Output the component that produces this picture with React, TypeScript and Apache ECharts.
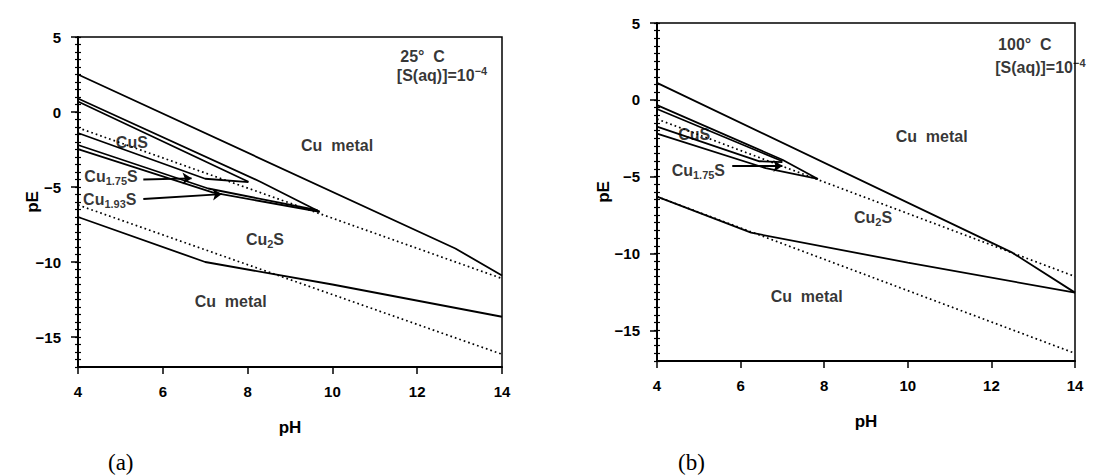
import React, { useEffect, useRef } from 'react';
import * as echarts from 'echarts';

// ---------- axis ticks ----------
const xTicks = [4, 6, 8, 10, 12, 14];
const yTicks = [5, 0, -5, -10, -15];

// ---------- panel (a) 25 °C : boundary lines [pH, pE] ----------
const aTop = [[4, 2.5], [12.9, -9.1], [14, -10.9]];
const aL1 = [[4, 0.9], [8.3, -4.65], [9.7, -6.65]];
const aL2 = [[4, 0.7], [8.02, -4.65]];
const aL3 = [[4, -1.4], [7.0, -4.45], [8.02, -4.68]];
const aL4 = [[4, -2.2], [7.07, -5.1], [9.65, -6.55]];
const aL5 = [[4, -2.47], [7.19, -5.38], [9.7, -6.65]];
const aBottom = [[4, -7], [7, -10], [10, -11.5], [14, -13.65]];
const aDot1 = [[4, -1.05], [14, -11.1]];
const aDot2 = [[4, -6.2], [14, -16.15]];
const aArrow1 = [[5.54, -4.5], [6.68, -4.42]];
const aArrow2 = [[5.54, -5.8], [7.39, -5.47]];

// ---------- panel (b) 100 °C ----------
const bTop = [[4, 1.1], [12.5, -9.95], [14, -12.55]];
const bL1 = [[4, -0.35], [7.0, -3.9], [7.85, -5.15]];
const bL2 = [[4, -0.6], [7.0, -4.0]];
const bL3 = [[4, -1.75], [6.45, -4.0], [7.0, -4.05]];
const bL4 = [[4, -2.2], [6.6, -4.45], [7.85, -5.15]];
const bBottom = [[4, -6.3], [6.25, -8.65], [10, -10.6], [14, -12.55]];
const bDot1 = [[4, -1.25], [14, -11.5]];
const bDot2 = [[4, -6.3], [14, -16.5]];
const bArrow1 = [[5.8, -4.3], [7.0, -4.3]];

// ---------- region labels ----------
const aLabels = [
  { x: 5.27, y: -2.03, t: '{m|CuS}', pos: 'inside' },
  { x: 10.11, y: -2.25, t: '{m|Cu  metal}', pos: 'inside' },
  { x: 8.41, y: -8.47, t: '{m|Cu}{s|2}{m|S}', pos: 'inside' },
  { x: 7.6, y: -12.63, t: '{m|Cu  metal}', pos: 'inside' },
  { x: 4.15, y: -4.31, t: '{m|Cu}{s|1.75}{m|S}', pos: 'right' },
  { x: 4.12, y: -5.85, t: '{m|Cu}{s|1.93}{m|S}', pos: 'right' },
  { x: 11.6, y: 3.69, t: '{m|25°  C}', pos: 'right' },
  { x: 11.52, y: 2.42, t: '{m|[S(aq)]=10}{p|−4}', pos: 'right' },
];
const bLabels = [
  { x: 4.89, y: -2.23, t: '{m|CuS}', pos: 'inside' },
  { x: 10.57, y: -2.36, t: '{m|Cu  metal}', pos: 'inside' },
  { x: 9.17, y: -7.64, t: '{m|Cu}{s|2}{m|S}', pos: 'inside' },
  { x: 7.58, y: -12.8, t: '{m|Cu  metal}', pos: 'inside' },
  { x: 4.35, y: -4.6, t: '{m|Cu}{s|1.75}{m|S}', pos: 'right' },
  { x: 12.16, y: 3.57, t: '{m|100°  C}', pos: 'right' },
  { x: 12.09, y: 2.13, t: '{m|[S(aq)]=10}{p|−4}', pos: 'right' },
];

const FONT = 'Liberation Sans, Arial, Helvetica, sans-serif';

const halfTicks: number[] = [];
for (let v = -17; v <= 5; v += 0.5) halfTicks.push(v);

const rich = {
  m: { fontSize: 16, fontFamily: FONT, fontWeight: 'bold', color: '#000', lineHeight: 20 },
  s: { fontSize: 11, fontFamily: FONT, fontWeight: 'bold', color: '#000', lineHeight: 10, verticalAlign: 'bottom' },
  p: { fontSize: 11, fontFamily: FONT, fontWeight: 'bold', color: '#000', lineHeight: 10, verticalAlign: 'top' },
};

function buildOption() {
  const grids = [
    { left: 78, top: 37, width: 424, height: 330 },
    { left: 657, top: 23, width: 418, height: 338 },
  ].map((g) => ({ ...g, show: true, borderColor: '#000', borderWidth: 1.5, backgroundColor: 'transparent' }));

  const xAxis = [0, 1].map((gi) => ({
    type: 'value',
    gridIndex: gi,
    min: 4,
    max: 14,
    interval: 2,
    axisLine: { show: true, onZero: false, lineStyle: { color: '#000', width: 2 } },
    axisTick: { show: true, length: 7, lineStyle: { color: '#000', width: 1.5 } },
    axisLabel: { margin: 17, fontSize: 15, fontWeight: 'bold', color: '#000', fontFamily: FONT },
    splitLine: { show: false },
    name: 'pH',
    nameLocation: 'middle',
    nameGap: 52,
    nameMoveOverlap: false,
    nameTextStyle: { fontSize: 17, fontWeight: 'bold', color: '#000', fontFamily: FONT },
  }));

  const nameGaps = [37, 45];
  const yAxis: any[] = [];
  [0, 1].forEach((gi) => {
    yAxis.push({
      type: 'value',
      gridIndex: gi,
      position: 'left',
      min: -17,
      max: 5,
      axisLine: { show: true, onZero: false, lineStyle: { color: '#000', width: 2 } },
      axisTick: { show: true, length: 7, customValues: yTicks, lineStyle: { color: '#000', width: 1.5 } },
      axisLabel: {
        customValues: yTicks,
        margin: 17,
        fontSize: 15,
        fontWeight: 'bold',
        color: '#000',
        fontFamily: FONT,
        formatter: (v: number) => String(v).replace('-', '\u2212'),
      },
      splitLine: { show: false },
      name: 'pE',
      nameLocation: 'middle',
      nameRotate: 90,
      nameGap: nameGaps[gi],
      nameMoveOverlap: false,
      nameTextStyle: { fontSize: 17, fontWeight: 'bold', color: '#000', fontFamily: FONT },
    });
    yAxis.push({
      type: 'value',
      gridIndex: gi,
      position: 'left',
      min: -17,
      max: 5,
      axisLine: { show: false },
      axisTick: { show: true, length: 3, customValues: halfTicks, lineStyle: { color: '#000', width: 1.2 } },
      axisLabel: { show: false },
      splitLine: { show: false },
    });
    yAxis.push({
      type: 'value',
      gridIndex: gi,
      position: 'left',
      min: -17,
      max: 5,
      axisLine: { show: false },
      axisTick: { show: true, inside: true, length: 3, customValues: halfTicks, lineStyle: { color: '#000', width: 1.2 } },
      axisLabel: { show: false },
      splitLine: { show: false },
    });
  });

  const solid = (data: number[][], gi: number) => ({
    type: 'line',
    xAxisIndex: gi,
    yAxisIndex: gi * 3,
    data,
    symbol: 'none',
    silent: true,
    lineStyle: { color: '#000', width: 1.8 },
    z: 3,
  });
  const dotted = (data: number[][], gi: number) => ({
    type: 'line',
    xAxisIndex: gi,
    yAxisIndex: gi * 3,
    data,
    symbol: 'none',
    silent: true,
    lineStyle: { color: '#000', width: 1.7, type: [1.7, 3] },
    z: 2,
  });
  const arrows = (list: number[][][], gi: number) => ({
    type: 'lines',
    coordinateSystem: 'cartesian2d',
    xAxisIndex: gi,
    yAxisIndex: gi * 3,
    symbol: ['none', 'arrow'],
    symbolSize: 9,
    silent: true,
    lineStyle: { color: '#000', width: 1.8, opacity: 1, curveness: 0 },
    data: list.map((c) => ({ coords: c })),
    z: 4,
  });
  const labels = (list: any[], gi: number) => ({
    type: 'scatter',
    xAxisIndex: gi,
    yAxisIndex: gi * 3,
    symbolSize: 0,
    silent: true,
    z: 5,
    data: list.map((l) => ({
      value: [l.x, l.y],
      label: {
        show: true,
        position: l.pos,
        distance: 0,
        color: '#000',
        textBorderWidth: 0,
        formatter: l.t,
        rich,
      },
    })),
  });

  const series: any[] = [
    solid(aTop, 0), solid(aL1, 0), solid(aL2, 0), solid(aL3, 0), solid(aL4, 0), solid(aL5, 0), solid(aBottom, 0),
    dotted(aDot1, 0), dotted(aDot2, 0),
    arrows([aArrow1, aArrow2], 0),
    labels(aLabels, 0),
    solid(bTop, 1), solid(bL1, 1), solid(bL2, 1), solid(bL3, 1), solid(bL4, 1), solid(bBottom, 1),
    dotted(bDot1, 1), dotted(bDot2, 1),
    arrows([bArrow1], 1),
    labels(bLabels, 1),
  ];

  return {
    animation: false,
    backgroundColor: '#fff',
    grid: grids,
    xAxis,
    yAxis,
    series,
    graphic: [
      { type: 'text', left: 108, top: 451, style: { text: '(a)', fontSize: 23, fontFamily: 'Liberation Serif, Times New Roman, serif', fill: '#000' } },
      { type: 'text', left: 678, top: 451, style: { text: '(b)', fontSize: 23, fontFamily: 'Liberation Serif, Times New Roman, serif', fill: '#000' } },
    ],
  };
}

export default function App() {
  const ref = useRef<HTMLDivElement>(null);
  useEffect(() => {
    const chart = echarts.init(ref.current!, null, { renderer: 'svg' });
    chart.setOption(buildOption() as any);
    return () => chart.dispose();
  }, []);
  return (
    <div
      ref={ref}
      style={{ position: 'fixed', left: 0, top: 0, width: 1116, height: 475, background: '#fff' }}
    />
  );
}
